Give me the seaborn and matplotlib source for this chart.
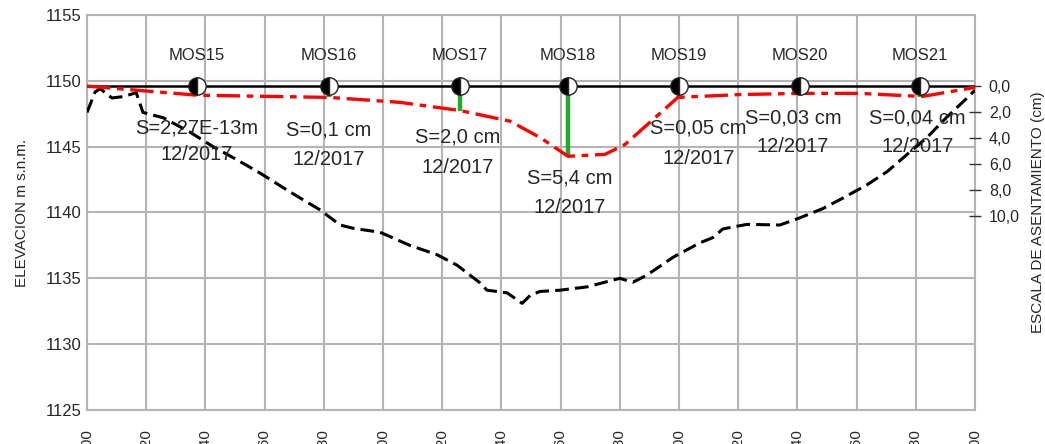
import numpy as np
import pandas as pd
import matplotlib
matplotlib.use("Agg")
import matplotlib.pyplot as plt
import seaborn as sns

# terrain profile (chainage m, elevation m s.n.m.)
terrain_x = [0, 2.7, 4.4, 8.4, 12.2, 16.6, 18.9, 25.7, 34.8, 42.6, 50.7, 58.4, 67.6, 72.0,
             78.7, 85.5, 89.9, 99.0, 109.1, 118.2, 125.0, 132.8, 135.1, 141.9, 147.0, 149.7,
             153.0, 159.8, 168.9, 180.0, 184.4, 189.2, 198.0, 207.1, 211.5, 214.8, 223.0,
             234.1, 240.9, 248.6, 255.4, 263.5, 270.3, 277.0, 283.8, 290.5, 298.3, 300]
terrain_z = [1147.6, 1149.15, 1149.4, 1148.7, 1148.8, 1149.1, 1147.6, 1147.2, 1146.1, 1145.0,
             1144.0, 1143.0, 1141.7, 1141.1, 1140.2, 1139.05, 1138.8, 1138.5, 1137.5, 1136.8,
             1136.0, 1134.65, 1134.1, 1133.9, 1133.1, 1133.7, 1134.0, 1134.1, 1134.35, 1135.0,
             1134.7, 1135.25, 1136.6, 1137.7, 1138.1, 1138.75, 1139.1, 1139.05, 1139.6, 1140.3,
             1141.1, 1142.1, 1143.1, 1144.4, 1145.7, 1147.25, 1148.9, 1149.3]

# settlement profile (cm)
settle_x = [0, 37.2, 81.8, 105.7, 126.0, 142.9, 153.0, 162.5, 175.0, 181.7, 199.6, 220.6,
            240.9, 261.1, 282.1, 300]
settle_s = [0.0, 0.7, 0.87, 1.25, 1.88, 2.7, 3.95, 5.4, 5.25, 4.5, 0.87, 0.65, 0.56, 0.56,
            0.8, 0.1]

# settlement monitoring points
mos_names = ["MOS15", "MOS16", "MOS17", "MOS18", "MOS19", "MOS20", "MOS21"]
mos_x = [37.0, 81.8, 126.0, 162.5, 200.0, 240.9, 281.4]
mos_s = [0.7, 0.87, 1.88, 5.4, 0.87, 0.56, 0.8]
mos_text = ["S=2,27E-13m", "S=0,1 cm", "S=2,0 cm", "S=5,4 cm", "S=0,05 cm", "S=0,03 cm",
            "S=0,04 cm"]
mos_date = ["12/2017"] * 7
text_x = [37.0, 81.8, 125.3, 163.0, 206.5, 238.5, 280.5]
text_z = [1146.4, 1146.3, 1145.7, 1142.6, 1146.4, 1147.2, 1147.2]
date_z = [1144.4, 1144.0, 1143.4, 1140.4, 1144.1, 1145.0, 1145.0]

ref_z = 1149.6
chainage = list(range(0, 301, 20))
chainage_labels = ["0+%03d" % c for c in chainage]
settle_ticks = [0, 2, 4, 6, 8, 10]
settle_labels = ["0,0", "2,0", "4,0", "6,0", "8,0", "10,0"]

sns.set_style("white")
plt.rcParams["font.family"] = ["Liberation Sans Narrow", "Liberation Sans", "DejaVu Sans"]

fig = plt.figure(figsize=(10.45, 4.44), dpi=100)
ax = fig.add_axes([0.0833, 0.0766, 0.8497, 0.8896])

ax.set_xlim(0, 300)
ax.set_ylim(1125, 1155)
ax.set_xticks(chainage)
ax.set_xticklabels(chainage_labels, rotation=90, va="top", fontsize=11)
ax.set_yticks(range(1125, 1156, 5))
ax.tick_params(axis="y", labelsize=12, length=0, pad=4)
ax.tick_params(axis="x", length=0, pad=14)
ax.grid(True, color="#b4b4b4", lw=1.5)
for sp in ax.spines.values():
    sp.set_color("#b4b4b4")
    sp.set_linewidth(1.5)
ax.set_ylabel("ELEVACION m s.n.m.", fontsize=11, labelpad=12)

# terrain
tdf = pd.DataFrame({"x": terrain_x, "z": terrain_z})
sns.lineplot(data=tdf, x="x", y="z", ax=ax, color="black", lw=2.2, sort=False, zorder=3)
ax.lines[-1].set_dashes((4.5, 2))

# reference line
ax.plot([0, 300], [ref_z, ref_z], color="black", lw=1.8, zorder=4)

# twin axis for settlement
ax2 = ax.twinx()
k = 13.17 / 13.0
ax2.set_ylim((ref_z - 1125) * k, (ref_z - 1155) * k)
ax2.set_yticks(settle_ticks)
ax2.set_yticklabels(settle_labels, fontsize=11.5)
ax2.tick_params(axis="y", direction="inout", length=8, width=1, color="#333333", pad=6)
for sp in ax2.spines.values():
    sp.set_visible(False)
ax2.set_ylabel("ESCALA DE ASENTAMIENTO (cm)", fontsize=11, labelpad=8)

sdf = pd.DataFrame({"x": settle_x, "s": settle_s})
for xi, si in zip(mos_x, mos_s):
    ax2.plot([xi, xi], [0, si], color="#1faa2a", lw=3.2, zorder=3, solid_capstyle="butt")
sns.lineplot(data=sdf, x="x", y="s", ax=ax2, color="red", lw=2.4, sort=False, zorder=4)
ax2.lines[-1].set_dashes((7, 2, 2, 2))

for xi in mos_x:
    ax2.plot(xi, 0, marker="o", ms=12.5, mfc="black", mfcalt="white", fillstyle="left",
             mec="#222222", mew=1, zorder=6)

for name, xi, tx, t1, t2, z1, z2 in zip(mos_names, mos_x, text_x, mos_text, mos_date,
                                         text_z, date_z):
    ax.text(xi, 1151.9, name, ha="center", va="center", fontsize=12, zorder=7)
    ax.text(tx, z1, t1, ha="center", va="center", fontsize=14.5, zorder=7)
    ax.text(tx, z2, t2, ha="center", va="center", fontsize=14.5, zorder=7)

ax.set_xlabel("")
ax2.set_xlabel("")
fig.savefig("out.png", dpi=100)
